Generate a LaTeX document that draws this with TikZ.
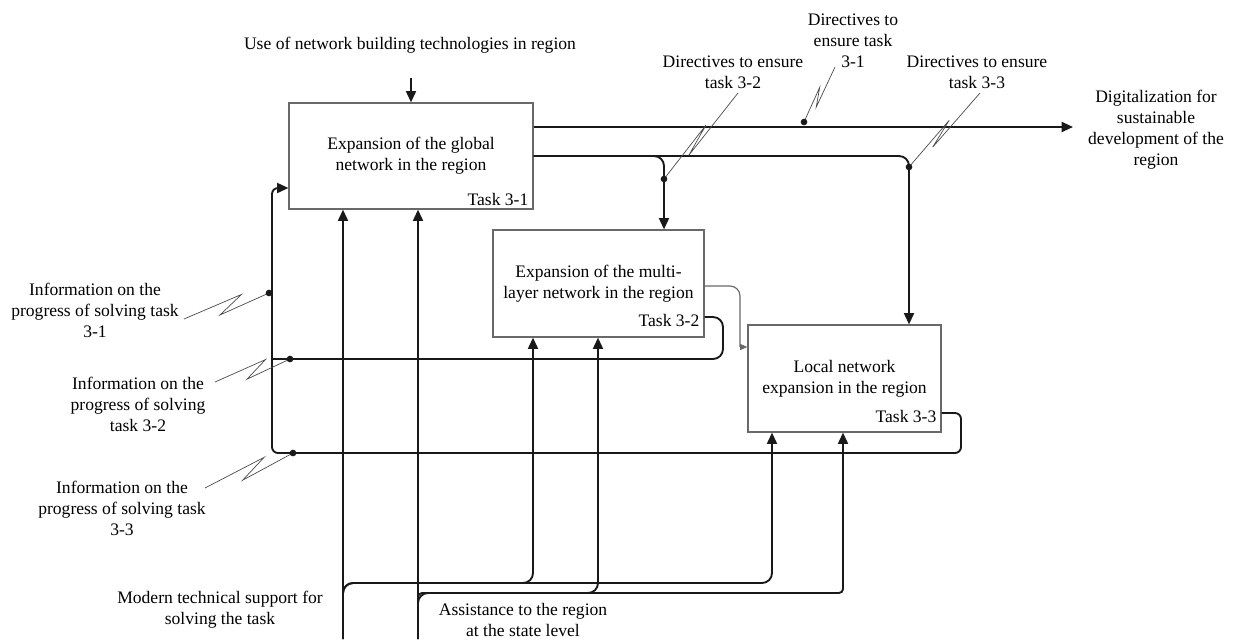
\documentclass[tikz,border=0pt]{standalone}
\usepackage{fontspec}
\setmainfont{Liberation Serif}
\usepackage{tikz}
\usetikzlibrary{arrows.meta, calc}
\definecolor{ink}{RGB}{25, 25, 25}
\definecolor{rim}{RGB}{105, 105, 105}
\definecolor{wavy}{RGB}{75, 75, 75}

\tikzset{
  task/.style={draw=rim, line width=1pt, fill=white, inner sep=0pt},
  tasktag/.style={anchor=base east, inner sep=0pt},
  wire/.style={ink, line width=1.6pt, rounded corners=0.3cm},
  flow/.style={wire, -{Triangle[length=0.34cm, width=0.3cm]}},
  feed/.style={rim, line width=1pt, rounded corners=0.3cm},
  squig/.style={wavy, line width=0.6pt}
}

\begin{document}
\begin{tikzpicture}[x=0.03cm, y=-0.03cm, every node/.style={font=\fontsize{15}{18}\selectfont, align=center}]
  \useasboundingbox (0, 0) rectangle (1234, 639);

  % the three tasks
  \node[task, minimum width=7.32cm, minimum height=3.18cm] (b1) at (411, 156) {Expansion of the global\\network in the region};
  \node[task, minimum width=6.33cm, minimum height=3.21cm] (b2) at (598.5, 283.5) {Expansion of the multi-\\layer network in the region};
  \node[task, minimum width=5.79cm, minimum height=3.21cm] (b3) at (844.5, 378.5) {Local network\\expansion in the region};
  \foreach \n/\dy in {1/4, 2/11, 3/10} {
    \node[tasktag] (t\n) at ($(b\n.south east) + (-5, -\dy)$) {Task 3-\n};
  }

  % control
  \node (use) at (410, 45) {Use of network building technologies in region};
  \coordinate (c1) at (411, 78);
  \draw[flow] (c1) -- (b1.north);

  % outputs
  \node (dig) at (1156, 130) {Digitalization for\\sustainable\\development of the\\region};
  \coordinate (o1) at (1073, 127);
  \draw[flow] (b1.east |- o1) -- (o1);

  \coordinate (d2) at (664, 156);
  \coordinate (d3) at (909, 156);
  \draw[flow] (b1.east |- d3) -- (d3) -- (d3 |- b3.north);
  \draw[flow] (b1.east |- d2) -- (d2) -- (d2 |- b2.north);

  \coordinate (k1) at (740, 286);
  \coordinate (k2) at (740, 347);
  \draw[feed] (b2.east |- k1) -- (k1) -- (k2);
  \draw[rim, line width=1pt, -{Triangle[length=0.22cm, width=0.18cm]}] (k2) -- (b3.west |- k2);

  % feedback
  \coordinate (f2a) at (723, 317);
  \coordinate (f2b) at (723, 359);
  \coordinate (f3a) at (961, 413);
  \coordinate (f3b) at (961, 453);
  \coordinate (f3c) at (272, 453);
  \coordinate (f3d) at (272, 188);
  \draw[wire] (b2.east |- f2a) -- (f2a) -- (f2b) -- (f3c |- f2b);
  \draw[flow, rounded corners=0.18cm] (b3.east |- f3a) -- (f3a) -- (f3b) -- (f3c) -- (f3d) -- (b1.west |- f3d);

  % mechanisms
  \node (m1) at (220, 610) {Modern technical support for\\solving the task};
  \node (m2) at (523, 620) {Assistance to the region\\at the state level};
  \coordinate (mA) at (343, 639);
  \coordinate (mB) at (418, 639);
  \coordinate (hA) at (533, 583);
  \coordinate (hA3) at (772, 583);
  \coordinate (hB) at (598, 593);
  \coordinate (hB3) at (843, 593);
  \draw[flow] (mA) -- (mA |- b1.south);
  \draw[flow] (mB) -- (mB |- b1.south);
  \draw[flow] (mA) -- (mA |- hA) -- (hA) -- (hA |- b2.south);
  \draw[flow] (mA) -- (mA |- hA) -- (hA3) -- (hA3 |- b3.south);
  \draw[flow] (mB) -- (mB |- hB) -- (hB) -- (hB |- b2.south);
  \draw[flow, rounded corners=0.12cm] (mB) -- (mB |- hB) -- (hB3) -- (hB3 |- b3.south);

  % labels with squiggles
  \node (i31) at (95, 310) {Information on the\\progress of solving task\\3-1};
  \node (i32) at (138, 404) {Information on the\\progress of solving\\task 3-2};
  \node (i33) at (122, 508) {Information on the\\progress of solving task\\3-3};
  \node (r32) at (733, 72) {Directives to ensure\\task 3-2};
  \node (r31) at (853, 41) {Directives to\\ensure task\\3-1};
  \node (r33) at (977, 72) {Directives to ensure\\task 3-3};

  \coordinate (q31) at (184, 319); \coordinate (p31) at (269, 293);
  \coordinate (q32) at (215, 382); \coordinate (p32) at (290, 359);
  \coordinate (q33) at (205, 488); \coordinate (p33) at (293, 453);
  \coordinate (q21) at (835, 67);  \coordinate (p21) at (804, 122);
  \coordinate (q22) at (738, 93);  \coordinate (p22) at (664, 179);
  \coordinate (q23) at (980, 93);  \coordinate (p23) at (909, 167);

  \foreach \s/\e/\w in {q31/p31/0.2cm, q32/p32/0.2cm, q33/p33/0.2cm, q21/p21/0.1cm, q22/p22/0.1cm, q23/p23/0.1cm} {
    \draw[squig] (\s) -- ($(\s)!0.7!(\e)!\w!90:(\e)$) -- ($(\s)!0.4!(\e)!\w!-90:(\e)$) -- (\e);
    \fill[ink] (\e) circle (0.1cm);
  }
\end{tikzpicture}
\end{document}
